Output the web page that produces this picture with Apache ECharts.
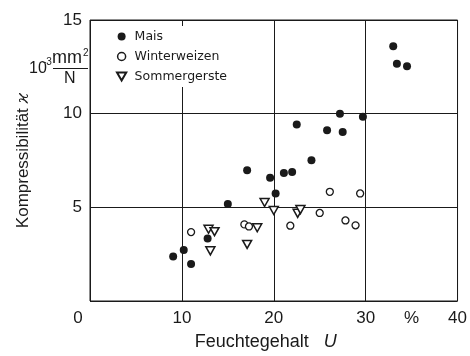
<!DOCTYPE html>
<html>
<head>
<meta charset="utf-8">
<script src="https://cdn.jsdelivr.net/npm/echarts@6/dist/echarts.min.js"></script>
<style>html,body{margin:0;padding:0;background:#fff}#c{width:470px;height:356px}</style>
</head>
<body>
<div id="c"></div>
<script>
// Data: [Feuchtegehalt U (%), Kompressibilität (10^-3 mm²/N)]
const seriesNames = ['Mais', 'Winterweizen', 'Sommergerste'];
const mais = [
  [9.05, 2.37], [10.2, 2.72], [11.0, 1.98], [12.8, 3.33], [15.0, 5.18],
  [17.1, 6.98], [19.6, 6.58], [20.2, 5.74], [21.1, 6.83], [22.0, 6.89],
  [22.5, 9.42], [24.1, 7.51], [25.8, 9.11], [27.2, 10.0], [27.5, 9.02],
  [29.7, 9.84], [33.0, 13.6], [33.4, 12.67], [34.5, 12.53]
];
const winterweizen = [
  [11.0, 3.68], [16.8, 4.09], [17.3, 3.98], [21.8, 4.02], [25.0, 4.70],
  [26.1, 5.83], [27.8, 4.30], [28.9, 4.04], [29.4, 5.74]
];
const sommergerste = [
  [12.9, 3.83], [13.55, 3.70], [13.1, 2.68], [17.1, 3.02], [18.2, 3.91],
  [19.0, 5.26], [20.0, 4.83], [22.6, 4.68], [22.9, 4.88]
];
const xTicks = [0, 10, 20, 30, 40];
const yTicks = [0, 5, 10, 15];
const xUnitLabel = '%';
const xUnitAt = 35;
const xName = 'Feuchtegehalt';
const xSymbol = 'U';
const yName = 'Kompressibilität';
const ySymbol = 'ϰ';

const ink = '#1a1a1a';
const font = 'Liberation Sans, Arial, sans-serif';
const downTriangle = 'path://M0,0L10,0L5,8.66Z';
const chart = echarts.init(document.getElementById('c'));
chart.setOption({
  backgroundColor: '#fff',
  animation: false,
  grid: { left: 90, right: 10, top: 20, bottom: 51, show: true, borderColor: ink, borderWidth: 1, backgroundColor: 'transparent' },
  legend: {
    orient: 'vertical', left: 110, top: 26, padding: [4, 6],
    backgroundColor: '#fff',
    itemWidth: 12, itemHeight: 8, itemGap: 7,
    textStyle: { fontFamily: 'DejaVu Sans, sans-serif', fontSize: 12.5, color: ink, padding: [0, 0, 0, 2] },
    data: [
      { name: seriesNames[0], icon: 'circle' },
      { name: seriesNames[1], icon: 'circle', itemStyle: { borderWidth: 1.5 } },
      { name: seriesNames[2], icon: downTriangle }
    ]
  },
  xAxis: [{
    type: 'value', min: xTicks[0], max: xTicks[xTicks.length - 1], interval: 10,
    axisLine: { show: false }, axisTick: { show: false },
    splitLine: { show: true, lineStyle: { color: ink, width: 1 } },
    axisLabel: {
      margin: 9, fontFamily: font, fontSize: 17, color: ink,
      formatter: v => v === 0 ? '{o|0}' : String(v),
      rich: { o: { fontFamily: font, fontSize: 17, color: ink, padding: [0, 24, 0, 0] } }
    },
    name: xName + '   {i|' + xSymbol + '}', nameLocation: 'middle', nameGap: 32,
    nameTextStyle: { fontFamily: font, fontSize: 18, color: ink, padding: [0, 16, 0, 0],
      rich: { i: { fontFamily: font, fontSize: 18, fontStyle: 'italic', color: ink } } }
  }, {
    type: 'value', min: xTicks[0], max: xTicks[xTicks.length - 1], interval: 5, position: 'bottom',
    axisLine: { show: false }, axisTick: { show: false }, splitLine: { show: false },
    axisLabel: { margin: 9, fontFamily: font, fontSize: 17, color: ink, formatter: v => v === xUnitAt ? xUnitLabel : '' }
  }],
  yAxis: {
    type: 'value', min: yTicks[0], max: yTicks[yTicks.length - 1], interval: 5,
    axisLine: { show: false }, axisTick: { show: false },
    splitLine: { show: true, lineStyle: { color: ink, width: 1 } },
    axisLabel: { margin: 8, fontFamily: font, fontSize: 17, color: ink, formatter: v => v === 0 ? '' : String(v) },
    name: yName + ' {i|' + ySymbol + '}', nameLocation: 'middle', nameGap: 58, nameRotate: 90,
    nameTextStyle: { fontFamily: font, fontSize: 17, color: ink,
      rich: { i: { fontFamily: 'DejaVu Serif, serif', fontSize: 17, fontStyle: 'italic', color: ink } } }
  },
  series: [{
    name: seriesNames[0], type: 'scatter', data: mais, symbol: 'circle', symbolSize: 8,
    itemStyle: { color: ink, opacity: 1 }, z: 5
  }, {
    name: seriesNames[1], type: 'scatter', data: winterweizen, symbol: 'circle', symbolSize: 7,
    itemStyle: { color: '#fff', borderColor: ink, borderWidth: 1.3, opacity: 1 }, z: 5
  }, {
    name: seriesNames[2], type: 'scatter', data: sommergerste, symbol: downTriangle, symbolSize: [9, 8],
    itemStyle: { color: '#fff', borderColor: ink, borderWidth: 1.5, opacity: 1 }, z: 5
  }],
  graphic: [
    { type: 'text', left: 29, top: 61, style: { text: '10', font: '16px ' + font, fill: ink } },
    { type: 'text', left: 43, top: 57, style: { text: '-3', font: '10px ' + font, fill: ink } },
    { type: 'text', left: 52, top: 49, style: { text: 'mm', font: '18px ' + font, fill: ink } },
    { type: 'text', left: 83, top: 48, style: { text: '2', font: '10px ' + font, fill: ink } },
    { type: 'line', shape: { x1: 53, y1: 68.5, x2: 88, y2: 68.5 }, style: { stroke: ink, lineWidth: 1.2 } },
    { type: 'text', left: 64, top: 71, style: { text: 'N', font: '16px ' + font, fill: ink } }
  ]
});
</script>
</body>
</html>
